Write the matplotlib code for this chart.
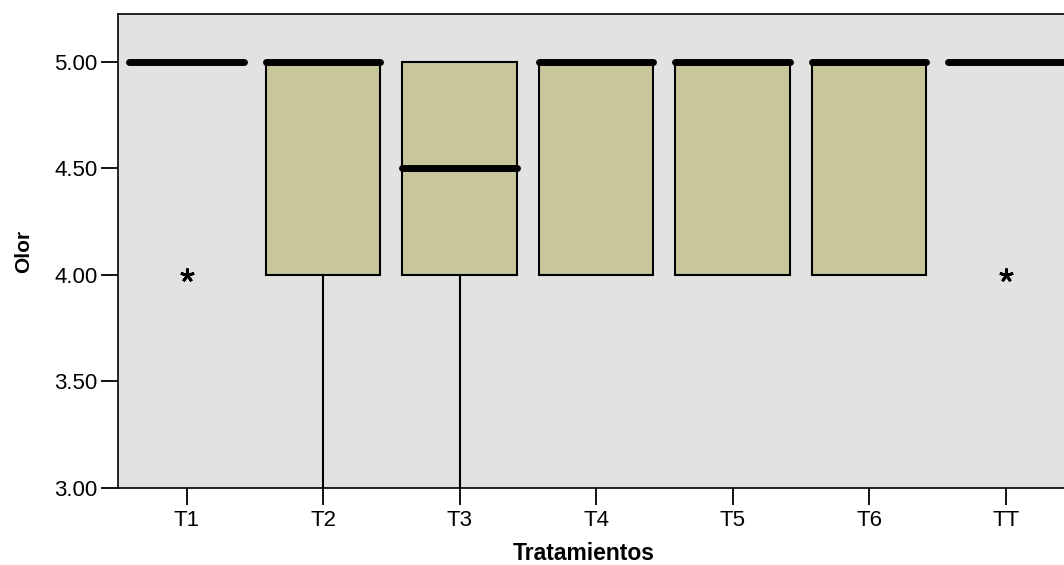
import matplotlib.pyplot as plt

plt.rcParams['font.family'] = ['Liberation Sans', 'DejaVu Sans']

# boxplot summary per treatment
labels = ['T1', 'T2', 'T3', 'T4', 'T5', 'T6', 'TT']
q1 = [5.0, 4.0, 4.0, 4.0, 4.0, 4.0, 5.0]
med = [5.0, 5.0, 4.5, 5.0, 5.0, 5.0, 5.0]
q3 = [5.0, 5.0, 5.0, 5.0, 5.0, 5.0, 5.0]
whislo = [5.0, 3.0, 3.0, 4.0, 4.0, 4.0, 5.0]
whishi = [5.0, 5.0, 5.0, 5.0, 5.0, 5.0, 5.0]
fliers = [[4.0], [], [], [], [], [], [4.0]]

stats = []
for i in range(len(labels)):
    stats.append({'label': labels[i], 'q1': q1[i], 'med': med[i], 'q3': q3[i],
                  'whislo': whislo[i], 'whishi': whishi[i], 'fliers': fliers[i]})

fig = plt.figure(figsize=(10.64, 5.65), dpi=100)
ax = fig.add_axes([0.1113, 0.1363, 0.898, 0.8389])
ax.set_facecolor('#e2e3e1')

ax.bxp(stats, positions=range(1, 8), widths=0.84, patch_artist=True,
       showcaps=False,
       boxprops=dict(facecolor='#c8c79b', edgecolor='black', linewidth=1.5),
       medianprops=dict(color='black', linewidth=5, solid_capstyle='round'),
       whiskerprops=dict(color='black', linewidth=1.5),
       flierprops=dict(marker=(5, 2, 0), markersize=10, markeredgewidth=2.0,
                       markeredgecolor='black', linestyle='none'))

ax.set_xlim(0.5, 7.5)
ax.set_ylim(3.0, 5.225)
ax.set_yticks([3.0, 3.5, 4.0, 4.5, 5.0])
ax.set_yticklabels(['3.00', '3.50', '4.00', '4.50', '5.00'])
ax.set_xticks(range(1, 8))
ax.set_xticklabels(labels)

ax.tick_params(axis='both', length=12, width=1.3, labelsize=16, color='black')
ax.tick_params(axis='y', pad=3)
ax.tick_params(axis='x', pad=4)
for s in ax.spines.values():
    s.set_linewidth(1.2)

ax.set_ylabel('Olor', fontsize=15, fontweight='bold', va='center')
ax.yaxis.set_label_coords(-0.099, 0.5)
ax.set_xlabel('Tratamientos', fontsize=16.5, fontweight='bold', va='center')
ax.xaxis.set_label_coords(0.487, -0.139)

fig.savefig('out.png', dpi=100)
